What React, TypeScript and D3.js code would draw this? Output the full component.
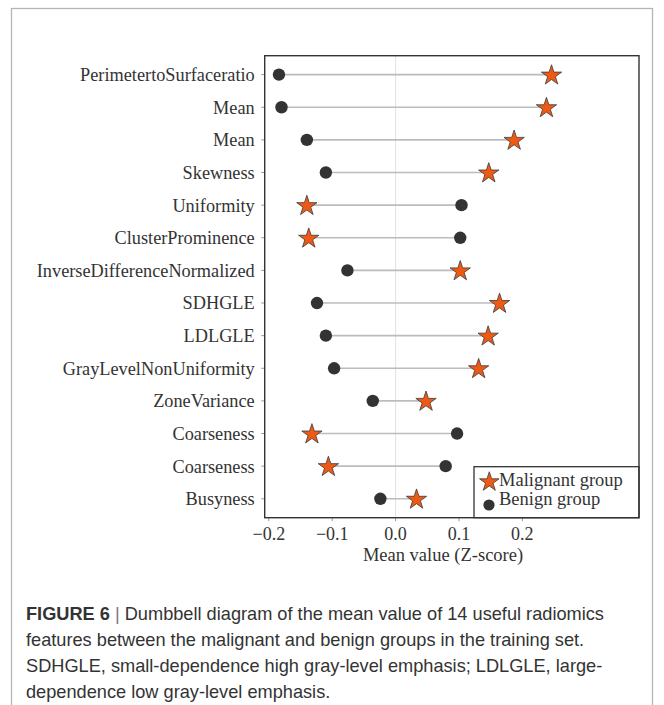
import React from "react";
import * as d3 from "d3";

// Radiomics features, listed top to bottom
const features = [
  "PerimetertoSurfaceratio",
  "Mean",
  "Mean",
  "Skewness",
  "Uniformity",
  "ClusterProminence",
  "InverseDifferenceNormalized",
  "SDHGLE",
  "LDLGLE",
  "GrayLevelNonUniformity",
  "ZoneVariance",
  "Coarseness",
  "Coarseness",
  "Busyness",
];

// Mean Z-scores per group
const benign = [-0.184, -0.18, -0.14, -0.11, 0.104, 0.102, -0.076, -0.124, -0.11, -0.097, -0.036, 0.097, 0.079, -0.024];
const malignant = [0.246, 0.238, 0.187, 0.147, -0.14, -0.137, 0.102, 0.164, 0.146, 0.131, 0.048, -0.132, -0.106, 0.033];

const xTicks = [-0.2, -0.1, 0.0, 0.1, 0.2];

const captionLines = [
  "Dumbbell diagram of the mean value of 14 useful radiomics",
  "features between the malignant and benign groups in the training set.",
  "SDHGLE, small-dependence high gray-level emphasis; LDLGLE, large-",
  "dependence low gray-level emphasis.",
];

const W = 664;
const H = 705;
const plot = { left: 264.7, right: 639, top: 55.7, bottom: 517.7 };

const STAR_FILL = "#EE5A16";
const DOT_FILL = "#333333";
const serif = "'Liberation Serif', 'Times New Roman', serif";
const sans = "'Liberation Sans', Arial, sans-serif";

export default function App() {
  const x = d3.scaleLinear().domain([-0.2065, 0.384]).range([plot.left, plot.right]);
  const idx = features.map((_, i) => String(i));
  const y = d3.scalePoint<string>().domain(idx).range([plot.top, plot.bottom]).padding(0.58);

  const star = d3.symbol().type(d3.symbolStar).size(128)() as string;
  const starLegend = d3.symbol().type(d3.symbolStar).size(118)() as string;

  const fmt = (v: number) => (v < 0 ? "\u2212" + Math.abs(v).toFixed(1) : v.toFixed(1));

  const legend = { left: 474, top: 466.7 };

  return (
    <svg
      width={W}
      height={H}
      viewBox={`0 0 ${W} ${H}`}
      style={{ position: "absolute", left: 0, top: 0, background: "#fff" }}
    >
      {/* outer figure frame */}
      <rect x={11.5} y={8.5} width={641} height={720} fill="none" stroke="#b5b5b5" strokeWidth={1.3} />

      {/* zero reference line */}
      <line x1={x(0)} x2={x(0)} y1={plot.top} y2={plot.bottom} stroke="#e2e2e2" strokeWidth={1} />

      {/* y ticks and labels */}
      {features.map((f, i) => {
        const yy = y(String(i))!;
        return (
          <g key={"y" + i}>
            <line x1={plot.left - 3.5} x2={plot.left} y1={yy} y2={yy} stroke="#9a9a9a" strokeWidth={1} />
            <text
              x={plot.left - 10}
              y={yy}
              dy="0.35em"
              textAnchor="end"
              fontFamily={serif}
              fontSize={18.3}
              fill="#333"
            >
              {f}
            </text>
          </g>
        );
      })}

      {/* x ticks and labels */}
      {xTicks.map((t) => (
        <g key={"x" + t}>
          <line x1={x(t)} x2={x(t)} y1={plot.bottom} y2={plot.bottom + 3.5} stroke="#9a9a9a" strokeWidth={1} />
          <text x={x(t)} y={540} textAnchor="middle" fontFamily={serif} fontSize={18} fill="#333">
            {fmt(t)}
          </text>
        </g>
      ))}
      <text x={443} y={561} textAnchor="middle" fontFamily={serif} fontSize={18.5} fill="#333">
        Mean value (Z-score)
      </text>

      {/* dumbbells */}
      {features.map((_, i) => {
        const yy = y(String(i))!;
        return (
          <g key={"d" + i}>
            <line x1={x(benign[i])} x2={x(malignant[i])} y1={yy} y2={yy} stroke="#bcbcbc" strokeWidth={1.6} />
            <circle cx={x(benign[i])} cy={yy} r={6.2} fill={DOT_FILL} />
            <path
              d={star}
              transform={`translate(${x(malignant[i])},${yy + 0.8})`}
              fill={STAR_FILL}
              stroke="#3a3a3a"
              strokeWidth={0.8}
            />
          </g>
        );
      })}

      {/* legend */}
      <rect
        x={legend.left}
        y={legend.top}
        width={plot.right - legend.left}
        height={plot.bottom - legend.top}
        fill="#fff"
        stroke="#333"
        strokeWidth={1.3}
      />
      <path d={starLegend} transform={`translate(489.3,482)`} fill={STAR_FILL} stroke="#3a3a3a" strokeWidth={0.8} />
      <text x={499} y={485.7} fontFamily={serif} fontSize={18.5} fill="#333">
        Malignant group
      </text>
      <circle cx={489} cy={505} r={5.6} fill={DOT_FILL} />
      <text x={499} y={504.5} fontFamily={serif} fontSize={18.5} fill="#333">
        Benign group
      </text>

      {/* plot frame */}
      <rect
        x={plot.left}
        y={plot.top}
        width={plot.right - plot.left}
        height={plot.bottom - plot.top}
        fill="none"
        stroke="#333"
        strokeWidth={1.4}
      />

      {/* caption */}
      <text x={26} y={620} fontFamily={sans} fontSize={18.2} fill="#333">
        <tspan fontWeight="bold">FIGURE 6</tspan>
        <tspan fill="#777"> | </tspan>
        <tspan>{captionLines[0]}</tspan>
      </text>
      {captionLines.slice(1).map((line, i) => (
        <text key={"c" + i} x={26} y={646 + i * 26} fontFamily={sans} fontSize={18.2} fill="#333">
          {line}
        </text>
      ))}
    </svg>
  );
}
